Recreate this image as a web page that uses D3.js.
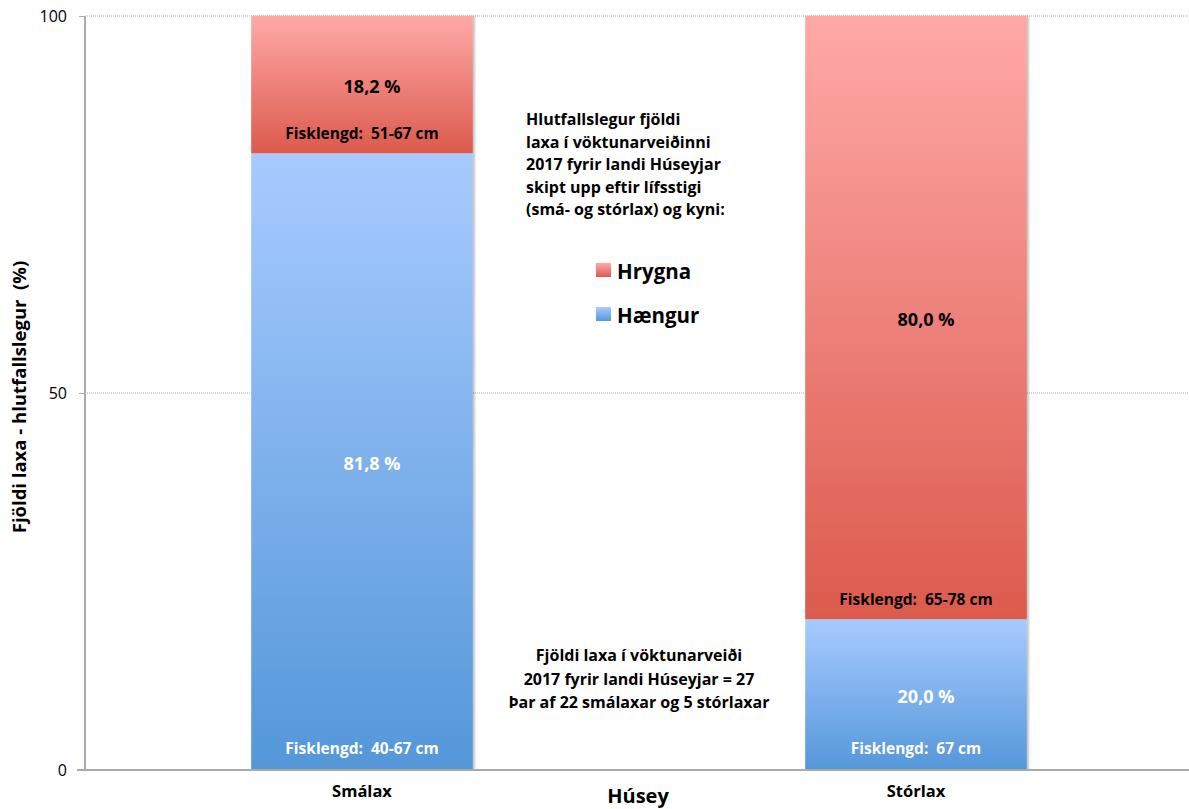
<!DOCTYPE html>
<html>
<head>
<meta charset="utf-8">
<script src="https://cdn.jsdelivr.net/npm/d3@7"></script>
<style>
  html, body { margin: 0; padding: 0; background: #fff; }
  svg { display: block; font-family: "Open Sans", sans-serif; }
</style>
</head>
<body>
<svg id="chart" width="1189" height="809"></svg>
<script>
// Categories and percentage shares (Hængur = male, Hrygna = female)
const categories = ["Smálax", "Stórlax"];
const haengur = [81.8, 20.0];
const hrygna = [18.2, 80.0];
const lengthHaengur = ["Fisklengd:  40-67 cm", "Fisklengd:  67 cm"];
const lengthHrygna = ["Fisklengd:  51-67 cm", "Fisklengd:  65-78 cm"];
const yTicks = [0, 50, 100];
const seriesNames = ["Hrygna", "Hængur"];
const infoLines = [
  "Hlutfallslegur fjöldi",
  "laxa í vöktunarveiðinni",
  "2017 fyrir landi Húseyjar",
  "skipt upp eftir lífsstigi",
  "(smá- og stórlax) og kyni:"
];
const countLines = [
  "Fjöldi laxa í vöktunarveiði",
  "2017 fyrir landi Húseyjar = 27",
  "Þar af 22 smálaxar og 5 stórlaxar"
];

const svg = d3.select("#chart");
const margin = { left: 85, top: 16, bottom: 770, right: 1193 };

const x = d3.scaleBand().domain(categories).range([margin.left, margin.right]).paddingInner(0.6).paddingOuter(0.3);
const y = d3.scaleLinear().domain([0, 100]).range([margin.bottom, margin.top]);

// Vertical gradients for the bar segments and legend swatches
const defs = svg.append("defs");
function grad(id, top, bottom) {
  const g = defs.append("linearGradient").attr("id", id).attr("x1", 0).attr("y1", 0).attr("x2", 0).attr("y2", 1);
  g.append("stop").attr("offset", "0%").attr("stop-color", top);
  g.append("stop").attr("offset", "100%").attr("stop-color", bottom);
}
grad("gRed", "#ffa9a7", "#dc5a4d");
grad("gBlue", "#a8cbff", "#5497d9");
const shadow = defs.append("filter").attr("id", "shadow").attr("x", "-5%").attr("y", "-5%").attr("width", "115%").attr("height", "110%");
shadow.append("feDropShadow").attr("dx", 2).attr("dy", 0).attr("stdDeviation", 1.2).attr("flood-color", "#000").attr("flood-opacity", 0.25);

// Grid lines
svg.append("g").selectAll("line").data(yTicks.filter(d => d > 0)).join("line")
  .attr("x1", margin.left).attr("x2", 1189)
  .attr("y1", d => y(d)).attr("y2", d => y(d))
  .attr("stroke", "#aaa").attr("stroke-width", 1).attr("stroke-dasharray", "1,1");

// Y axis
const yAxis = svg.append("g").attr("transform", `translate(${margin.left},0)`)
  .call(d3.axisLeft(y).tickValues(yTicks).tickSize(6).tickPadding(12));
yAxis.select(".domain").attr("stroke", "#aaa").attr("stroke-width", 2).attr("d", `M0,${margin.top}V${margin.bottom}`);
yAxis.selectAll(".tick line").attr("stroke", "#aaa");
yAxis.selectAll(".tick text").attr("font-size", 16).attr("fill", "#000").attr("font-family", "'Open Sans', sans-serif");

// Stacked bars: Hængur at the bottom, Hrygna on top
const bars = svg.append("g").attr("filter", "url(#shadow)");
categories.forEach((c, i) => {
  bars.append("rect").attr("x", x(c)).attr("width", x.bandwidth())
    .attr("y", y(haengur[i])).attr("height", y(0) - y(haengur[i])).attr("fill", "url(#gBlue)");
  bars.append("rect").attr("x", x(c)).attr("width", x.bandwidth())
    .attr("y", y(100)).attr("height", y(haengur[i]) - y(100)).attr("fill", "url(#gRed)");
});

// X axis
const xAxis = svg.append("g").attr("transform", `translate(0,${margin.bottom})`)
  .call(d3.axisBottom(x).tickSize(0).tickPadding(12));
xAxis.select(".domain").attr("stroke", "#aaa").attr("stroke-width", 2).attr("d", `M${margin.left - 8},0H1189`);
xAxis.selectAll(".tick text").attr("font-size", 16.5).attr("font-weight", "bold").attr("fill", "#000")
  .attr("font-family", "'Open Sans', sans-serif").attr("dy", null).attr("y", 27);

// Bar labels
const lbl = svg.append("g").attr("text-anchor", "middle").attr("font-weight", "bold");
const pct = v => v.toFixed(1).replace(".", ",") + " %";
categories.forEach((c, i) => {
  const cx = x(c) + x.bandwidth() / 2;
  lbl.append("text").attr("x", cx + 10).attr("y", y(haengur[i] + hrygna[i] / 2) + 8)
    .attr("font-size", 18).attr("fill", "#000").text(pct(hrygna[i]));
  lbl.append("text").attr("x", cx + 10).attr("y", y(haengur[i] / 2) + 8)
    .attr("font-size", 18).attr("fill", "#fff").text(pct(haengur[i]));
  lbl.append("text").attr("x", cx).attr("y", y(haengur[i]) - 14)
    .attr("font-size", 15.5).attr("fill", "#000").attr("xml:space", "preserve").text(lengthHrygna[i]);
  lbl.append("text").attr("x", cx).attr("y", y(0) - 16)
    .attr("font-size", 15.5).attr("fill", "#fff").attr("xml:space", "preserve").text(lengthHaengur[i]);
});

// Description block
svg.append("g").selectAll("text").data(infoLines).join("text")
  .attr("x", 526).attr("y", (d, i) => 125 + i * 22.5)
  .attr("font-size", 16).attr("font-weight", "bold").attr("fill", "#000").text(d => d);

// Legend
const legend = svg.append("g");
seriesNames.forEach((s, i) => {
  const ly = 263 + i * 44;
  legend.append("rect").attr("x", 596).attr("y", ly).attr("width", 15).attr("height", 14)
    .attr("fill", i === 0 ? "url(#gRed)" : "url(#gBlue)");
  legend.append("text").attr("x", 617).attr("y", ly + 16).attr("font-size", 20.5).attr("font-weight", "bold").text(s);
});

// Catch count block
svg.append("g").selectAll("text").data(countLines).join("text")
  .attr("x", 639).attr("y", (d, i) => 661 + i * 23.5).attr("text-anchor", "middle")
  .attr("font-size", 16).attr("font-weight", "bold").attr("fill", "#000").text(d => d);

// Axis titles
svg.append("text").attr("x", 638).attr("y", 803).attr("text-anchor", "middle")
  .attr("font-size", 20).attr("font-weight", "bold").text("Húsey");
svg.append("text").attr("transform", "translate(26,397) rotate(-90)").attr("text-anchor", "middle")
  .attr("font-size", 18.5).attr("font-weight", "bold").attr("xml:space", "preserve").text("Fjöldi laxa - hlutfallslegur  (%)");
</script>
</body>
</html>
